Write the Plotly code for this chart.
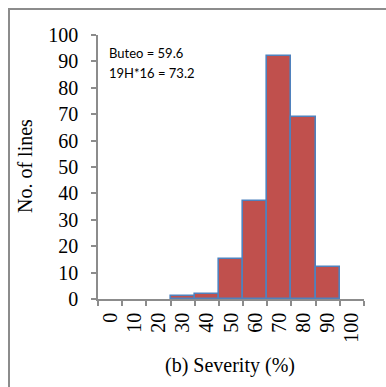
import plotly.graph_objects as go

# Histogram of disease severity across lines
severity_bins = ["0", "10", "20", "30", "40", "50", "60", "70", "80", "90", "100"]
line_counts = [0, 0, 0, 1, 2, 15, 37, 92, 69, 12, 0]
y_ticks = [0, 10, 20, 30, 40, 50, 60, 70, 80, 90, 100]
check_notes = ["Buteo = 59.6", "19H*16 = 73.2"]

W, H = 386, 387
L, R, T, B = 98, 22, 35, 88
pw, ph = W - L - R, H - T - B


def px_x(x):
    return (x - L) / pw


def px_y(y):
    return (H - B - y) / ph


axis_col = "#8c8c8c"
serif = "Liberation Serif, Times New Roman, serif"
fs = 20

# empty bins get no outline so nothing is drawn on the baseline
outline_widths = [1.6 if v > 0 else 0 for v in line_counts]

fig = go.Figure(
    go.Bar(
        x=severity_bins,
        y=line_counts,
        marker=dict(color="#C0504D", line=dict(color="#4F81BD", width=outline_widths)),
    )
)

fig.update_layout(
    width=W,
    height=H,
    margin=dict(l=L, r=R, t=T, b=B),
    paper_bgcolor="white",
    plot_bgcolor="white",
    bargap=0,
    showlegend=False,
    font=dict(family=serif, size=fs, color="black"),
)

fig.update_xaxes(
    type="category",
    range=[-0.5, 10.5],
    tickangle=-90,
    ticks="outside",
    tickson="boundaries",
    ticklen=5,
    tickcolor=axis_col,
    tickwidth=1.5,
    showline=True,
    linecolor=axis_col,
    linewidth=1.5,
    showgrid=False,
    ticklabelstandoff=4,
    tickfont=dict(family=serif, size=fs),
)

fig.update_yaxes(
    range=[0, 100],
    tickvals=y_ticks,
    ticks="outside",
    ticklen=5,
    tickcolor=axis_col,
    tickwidth=1.5,
    showline=True,
    linecolor=axis_col,
    linewidth=1.5,
    showgrid=False,
    zeroline=False,
    ticklabelstandoff=9,
    tickfont=dict(family=serif, size=fs),
)

# Outer chart frame
fig.add_shape(
    type="rect",
    xref="paper",
    yref="paper",
    x0=px_x(9),
    x1=px_x(400),
    y0=px_y(400),
    y1=px_y(9),
    line=dict(color=axis_col, width=2),
    layer="below",
)

# Check variety notes
for note, yy in zip(check_notes, [53, 73]):
    fig.add_annotation(
        text=note,
        xref="paper",
        yref="paper",
        x=px_x(107),
        y=px_y(yy),
        xanchor="left",
        yanchor="middle",
        showarrow=False,
        font=dict(family="Lato, Carlito, sans-serif", size=13, color="black"),
    )

fig.add_annotation(
    text="No. of lines",
    xref="paper",
    yref="paper",
    x=px_x(25),
    y=px_y(166),
    textangle=-90,
    showarrow=False,
    xanchor="center",
    yanchor="middle",
    font=dict(family=serif, size=fs),
)

fig.add_annotation(
    text="(b) Severity (%)",
    xref="paper",
    yref="paper",
    x=px_x(230),
    y=px_y(365),
    showarrow=False,
    xanchor="center",
    yanchor="middle",
    font=dict(family=serif, size=fs),
)

fig.write_html("out.html")
